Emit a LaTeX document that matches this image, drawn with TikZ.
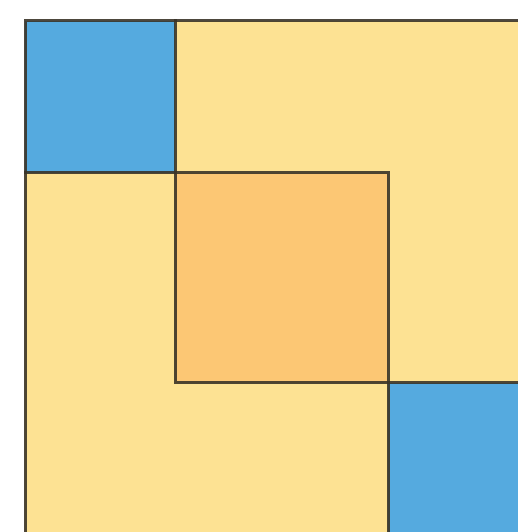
\documentclass[tikz,border=0pt]{standalone}
\definecolor{cblue}{HTML}{55AADF}
\definecolor{cyellow}{HTML}{FDE293}
\definecolor{corange}{HTML}{FCC774}
\definecolor{cline}{HTML}{3A3428}
\begin{document}
\begin{tikzpicture}[x=1pt,y=1pt,
  edge/.style={draw=cline,line width=3pt,opacity=0.9,line cap=rect}]
\useasboundingbox (0,0) rectangle (518,532);
\clip (0,0) rectangle (518,532);
\fill[white] (0,0) rectangle (518,532);
\fill[cyellow] (25,-5) rectangle (525,511);
\fill[cblue] (25,359) rectangle (175,511);
\fill[corange] (175,149) rectangle (388,359);
\fill[cblue] (388,-5) rectangle (525,149);
\coordinate (tl) at (25,511);
\coordinate (tr) at (525,511);
\coordinate (bl) at (25,-5);
\draw[edge] (bl) -- (tl) -- (tr);
\draw[edge] (175,511) -- (175,149) -- (525,149);
\draw[edge] (25,359) -- (388,359) -- (388,-5);
\end{tikzpicture}
\end{document}
